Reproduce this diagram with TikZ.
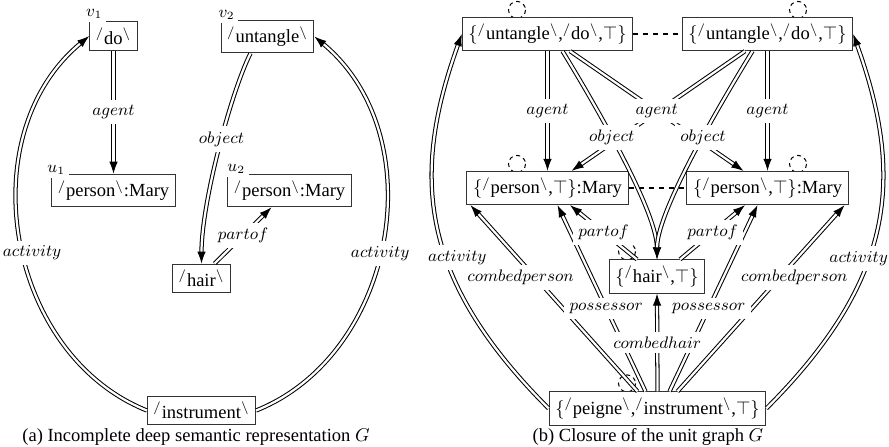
\documentclass[tikz,border=0pt]{standalone}
\usepackage{fontspec}
\setmainfont{Liberation Serif}
\usetikzlibrary{arrows.meta,calc}
\pgfdeclarelayer{background}
\pgfsetlayers{background,main}
\newcommand{\lex}[1]{$^{/}$#1$^{\backslash}$}
\begin{document}
\begin{tikzpicture}[x=0.54pt,y=-0.54pt,
  box/.style={draw=black!80, line width=0.5pt, fill=white, inner sep=3.3pt},
  rel/.style={draw=black, double=white, double distance=1.2pt, line width=0.55pt, -{Latex[length=6.5pt,width=4.6pt]}},
  lbl/.style={fill=white, inner sep=2.8pt, font=\small},
  vlab/.style={fill=white, inner sep=2pt, font=\small},
  eq/.style={draw=black, line width=0.55pt, dash pattern=on 2.8pt off 2.6pt},
  selfloop/.style={draw=black, line width=0.55pt, dash pattern=on 2.2pt off 2pt},
]
\useasboundingbox (0,0) rectangle (889,446);
\begin{pgfonlayer}{background}
\fill[white] (0,0) rectangle (889,446);
\end{pgfonlayer}

% ---------- (a) ----------
\node[box] (do)   at (113.5,36)   {\lex{do}};
\node[box] (unt)  at (267.5,36.5) {\lex{untangle}};
\node[box] (u1)   at (113.5,190.5) {\lex{person}:Mary};
\node[box] (u2)   at (289.5,190.5) {\lex{person}:Mary};
\node[box] (hair) at (201.5,278.5) {\lex{hair}};
\node[box] (ins)  at (201.5,410.5) {\lex{instrument}};

\draw[rel] (do.south) -- coordinate[pos=0.5] (la1) (u1.north);
\draw[rel] ($(unt.south)+(-17,0)$) .. controls +(-20,40) and +(0,-60) .. coordinate[pos=0.45] (la2) (hair.north);
\draw[rel] ($(hair.north)+(13,0)$) -- coordinate[pos=0.5] (la3) ($(u2.south)+(-18,0)$);
\draw[rel] (ins.west) .. controls +(-140,-56) and +(-120,100) .. coordinate[pos=0.47] (la4) (do.west);
\draw[rel] (ins.east) .. controls +(140,-56) and +(120,100) .. coordinate[pos=0.47] (la5) (unt.east);

\node[lbl] (ta1) at (la1) {$agent$};
\node[lbl] (ta2) at (la2) {$object$};
\node[lbl] (ta3) at (la3) {$partof$};
\node[lbl] (ta4) at ($(la4)+(9,0)$) {$activity$};
\node[lbl] (ta5) at (la5) {$activity$};

\node[vlab] (v1) at ($(do.north west)+(5,-7)$) {$v_1$};
\node[vlab] (v2) at ($(unt.north west)+(6,-5)$) {$v_2$};
\node[vlab] (w1) at ($(u1.north west)+(5,-4)$) {$u_1$};
\node[vlab] (w2) at ($(u2.north west)+(9,-5)$) {$u_2$};

% ---------- (b) ----------
\node[box] (T1) at (547.5,34)  {$\{$\lex{untangle},\lex{do},$\top\}$};
\node[box] (T2) at (767.5,34)  {$\{$\lex{untangle},\lex{do},$\top\}$};
\node[box] (P1) at (547.5,188) {$\{$\lex{person},$\top\}$:Mary};
\node[box] (P2) at (767.5,188) {$\{$\lex{person},$\top\}$:Mary};
\node[box] (H)  at (657,276.5) {$\{$\lex{hair},$\top\}$};
\node[box] (I)  at (657.5,408.5) {$\{$\lex{peigne},\lex{instrument},$\top\}$};

\begin{pgfonlayer}{background}
\draw[selfloop] ($(T1.north)+(-30.5,-7)$) circle[radius=8.5];
\draw[selfloop] ($(T2.north)+(30.5,-7)$) circle[radius=8.5];
\draw[selfloop] ($(P1.north)+(-30.5,-7)$) circle[radius=8.5];
\draw[selfloop] ($(P2.north)+(30.5,-7)$) circle[radius=8.5];
\draw[selfloop] ($(H.north)+(-30,-8)$) circle[radius=8.5];
\draw[selfloop] ($(I.north)+(-30.5,-8)$) circle[radius=8.5];
\end{pgfonlayer}

\draw[rel] (T1.south) -- coordinate[pos=0.5] (lb1) (P1.north);
\draw[rel] (T2.south) -- coordinate[pos=0.5] (lb2) (P2.north);
\draw[rel] ($(T1.south)+(22.5,0)$) -- coordinate[pos=0.5] (lb3) ($(P2.north)+(-24,0)$);
\draw[rel] ($(T2.south)+(-22.5,0)$) -- ($(P1.north)+(24,0)$);
\draw[rel] ($(T1.south)+(15,0)$) .. controls +(22,36) and +(0,-51) .. coordinate[pos=0.45] (lb4) (H.north);
\draw[rel] ($(T2.south)+(-15,0)$) .. controls +(-22,36) and +(0,-51) .. coordinate[pos=0.45] (lb5) (H.north);
\draw[rel] ($(H.north)+(-20,0)$) -- coordinate[pos=0.5] (lb6) ($(P1.south)+(22.5,0)$);
\draw[rel] ($(H.north)+(23,0)$) -- coordinate[pos=0.5] (lb7) ($(P2.south)+(-22.5,0)$);
\draw[rel] ($(I.north)+(-20,0)$) -- coordinate[pos=0.61] (lb8) ($(P1.south west)+(4,0)$);
\draw[rel] ($(I.north)+(-12,0)$) -- coordinate[pos=0.447] (lb9) ($(P1.south)+(10,0)$);
\draw[rel] (I.north) -- coordinate[pos=0.5] (lb10) (H.south);
\draw[rel] ($(I.north)+(12,0)$) -- coordinate[pos=0.447] (lb11) ($(P2.south)+(-10,0)$);
\draw[rel] ($(I.north)+(20,0)$) -- coordinate[pos=0.61] (lb12) ($(P2.south east)+(-4,0)$);
\draw[rel] (I.west) .. controls +(-130,-130) and +(-51,142) .. coordinate[pos=0.4] (lb13) (T1.west);
\draw[rel] (I.east) .. controls +(130,-130) and +(51,142) .. coordinate[pos=0.4] (lb14) (T2.east);

\draw[eq] (T1.east) -- (T2.west);
\draw[eq] (P1.east) -- (P2.west);

\node[lbl] (tb1) at (lb1) {$agent$};
\node[lbl] (tb2) at (lb2) {$agent$};
\node[lbl] (tb3) at (lb3) {$agent$};
\node[lbl] (tb4) at (lb4) {$object$};
\node[lbl] (tb5) at (lb5) {$object$};
\node[lbl] (tb6) at (lb6) {$partof$};
\node[lbl] (tb7) at (lb7) {$partof$};
\node[lbl] (tb8) at ($(lb8)+(-15,0)$) {$combedperson$};
\node[lbl] (tb9) at (lb9) {$possessor$};
\node[lbl] (tb10) at (lb10) {$combedhair$};
\node[lbl] (tb11) at (lb11) {$possessor$};
\node[lbl] (tb12) at ($(lb12)+(15,0)$) {$combedperson$};
\node[lbl] (tb13) at ($(lb13)+(10,-4)$) {$activity$};
\node[lbl] (tb14) at ($(lb14)+(-9,-3)$) {$activity$};

% captions
\node[anchor=base] (capa) at (196,441) {(a) Incomplete deep semantic representation $G$};
\node[anchor=base] (capb) at (648,441) {(b) Closure of the unit graph $G$};
\end{tikzpicture}
\end{document}
